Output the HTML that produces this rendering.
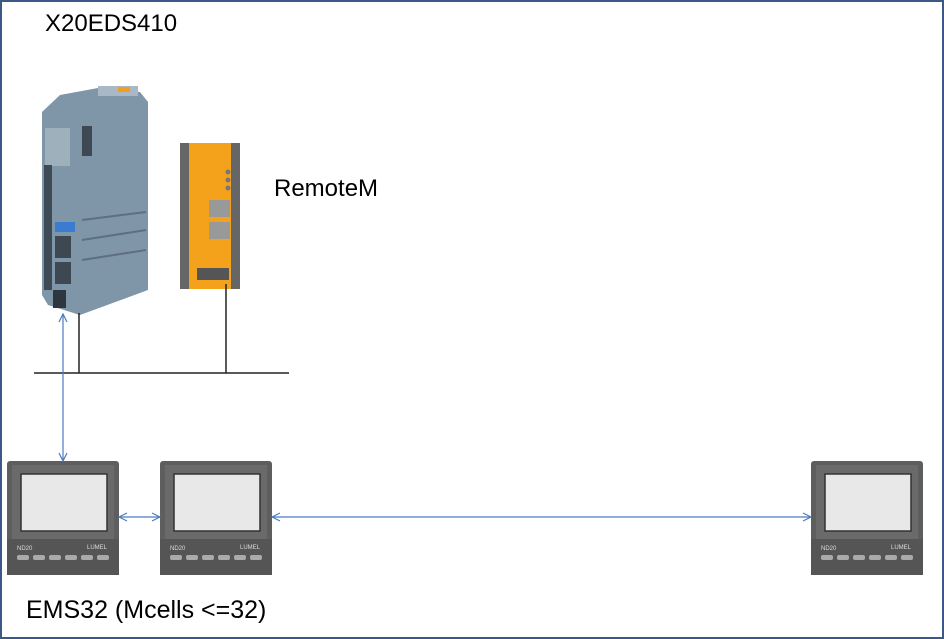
<!DOCTYPE html>
<html><head><style>
body{margin:0;width:944px;height:639px;background:#fff;overflow:hidden;font-family:"Liberation Sans",sans-serif}
.frame{position:absolute;left:0;top:0;width:940px;height:635px;border:2px solid #3a5a85}
.t{position:absolute;font-size:24px;color:#000}
</style></head><body>
<div class="frame"></div>
<div class="t" style="left:45px;top:10px">X20EDS410</div>
<div class="t" style="left:274px;top:175px">RemoteM</div>
<div class="t" style="left:26px;top:596px;font-size:25px">EMS32 (Mcells &lt;=32)</div>
<svg width="944" height="639" style="position:absolute;left:0;top:0">
<defs>
<g id="m">
<rect x="0" y="0" width="112" height="114" rx="3" fill="#5e5e5e"/>
<rect x="5" y="4" width="102" height="86" fill="#6a6a6a"/>
<rect x="14" y="13" width="86" height="57" fill="#e8e8e8" stroke="#333" stroke-width="1.5"/>
<rect x="0" y="78" width="112" height="36" fill="#555"/>
<text x="10" y="89" font-size="6" fill="#ddd" font-family="Liberation Sans">ND20</text>
<text x="80" y="88" font-size="6" fill="#ddd" font-family="Liberation Sans">LUMEL</text>
<g fill="#aaa"><rect x="10" y="94" width="12" height="5" rx="2"/><rect x="26" y="94" width="12" height="5" rx="2"/><rect x="42" y="94" width="12" height="5" rx="2"/><rect x="58" y="94" width="12" height="5" rx="2"/><rect x="74" y="94" width="12" height="5" rx="2"/><rect x="90" y="94" width="12" height="5" rx="2"/></g>
</g>
<marker id="a" markerWidth="10" markerHeight="10" refX="9" refY="5" orient="auto-start-reverse" markerUnits="userSpaceOnUse"><path d="M1,1 L9,5 L1,9" fill="none" stroke="#4a7cc0" stroke-width="1.2"/></marker>
</defs>
<polygon points="42,112 60,95 98,88 140,92 148,102 148,290 80,315 48,305 42,295" fill="#7f95a8"/>
<rect x="98" y="86" width="40" height="10" fill="#a9b8c4"/>
<rect x="118" y="87" width="12" height="5" fill="#f0a020"/>
<rect x="45" y="128" width="25" height="38" fill="#9fb0bd"/>
<rect x="44" y="165" width="8" height="125" fill="#3e4b57"/>
<rect x="55" y="222" width="20" height="10" fill="#3a7dd0"/>
<rect x="55" y="236" width="16" height="22" fill="#3d4852"/>
<rect x="55" y="262" width="16" height="22" fill="#3d4852"/>
<rect x="53" y="290" width="13" height="18" fill="#2e3740"/>
<rect x="82" y="126" width="10" height="30" fill="#3d4852"/>
<line x1="82" y1="220" x2="146" y2="212" stroke="#5d6f80" stroke-width="2"/>
<line x1="82" y1="240" x2="146" y2="230" stroke="#5d6f80" stroke-width="2"/>
<line x1="82" y1="260" x2="146" y2="250" stroke="#5d6f80" stroke-width="2"/>
<rect x="180" y="143" width="60" height="146" fill="#f4a21c"/>
<rect x="180" y="143" width="9" height="146" fill="#666"/>
<rect x="231" y="143" width="9" height="146" fill="#666"/>
<circle cx="228" cy="172" r="2.5" fill="#777"/><circle cx="228" cy="180" r="2.5" fill="#777"/><circle cx="228" cy="188" r="2.5" fill="#777"/>
<rect x="209" y="200" width="21" height="17" fill="#999"/>
<rect x="209" y="222" width="21" height="17" fill="#999"/>
<rect x="197" y="268" width="32" height="12" fill="#555"/>
<g stroke="#222" stroke-width="1.5">
<line x1="34" y1="373" x2="289" y2="373"/>
<line x1="79" y1="313" x2="79" y2="373"/>
<line x1="226" y1="284" x2="226" y2="373"/>
</g>
<use href="#m" x="7" y="461"/>
<use href="#m" x="160" y="461"/>
<use href="#m" x="811" y="461"/>
<g stroke="#4a7cc0" stroke-width="1.2">
<line x1="63" y1="314" x2="63" y2="461" marker-start="url(#a)" marker-end="url(#a)"/>
<line x1="119" y1="517" x2="160" y2="517" marker-start="url(#a)" marker-end="url(#a)"/>
<line x1="272" y1="517" x2="811" y2="517" marker-start="url(#a)" marker-end="url(#a)"/>
</g>
</svg>
</body></html>
